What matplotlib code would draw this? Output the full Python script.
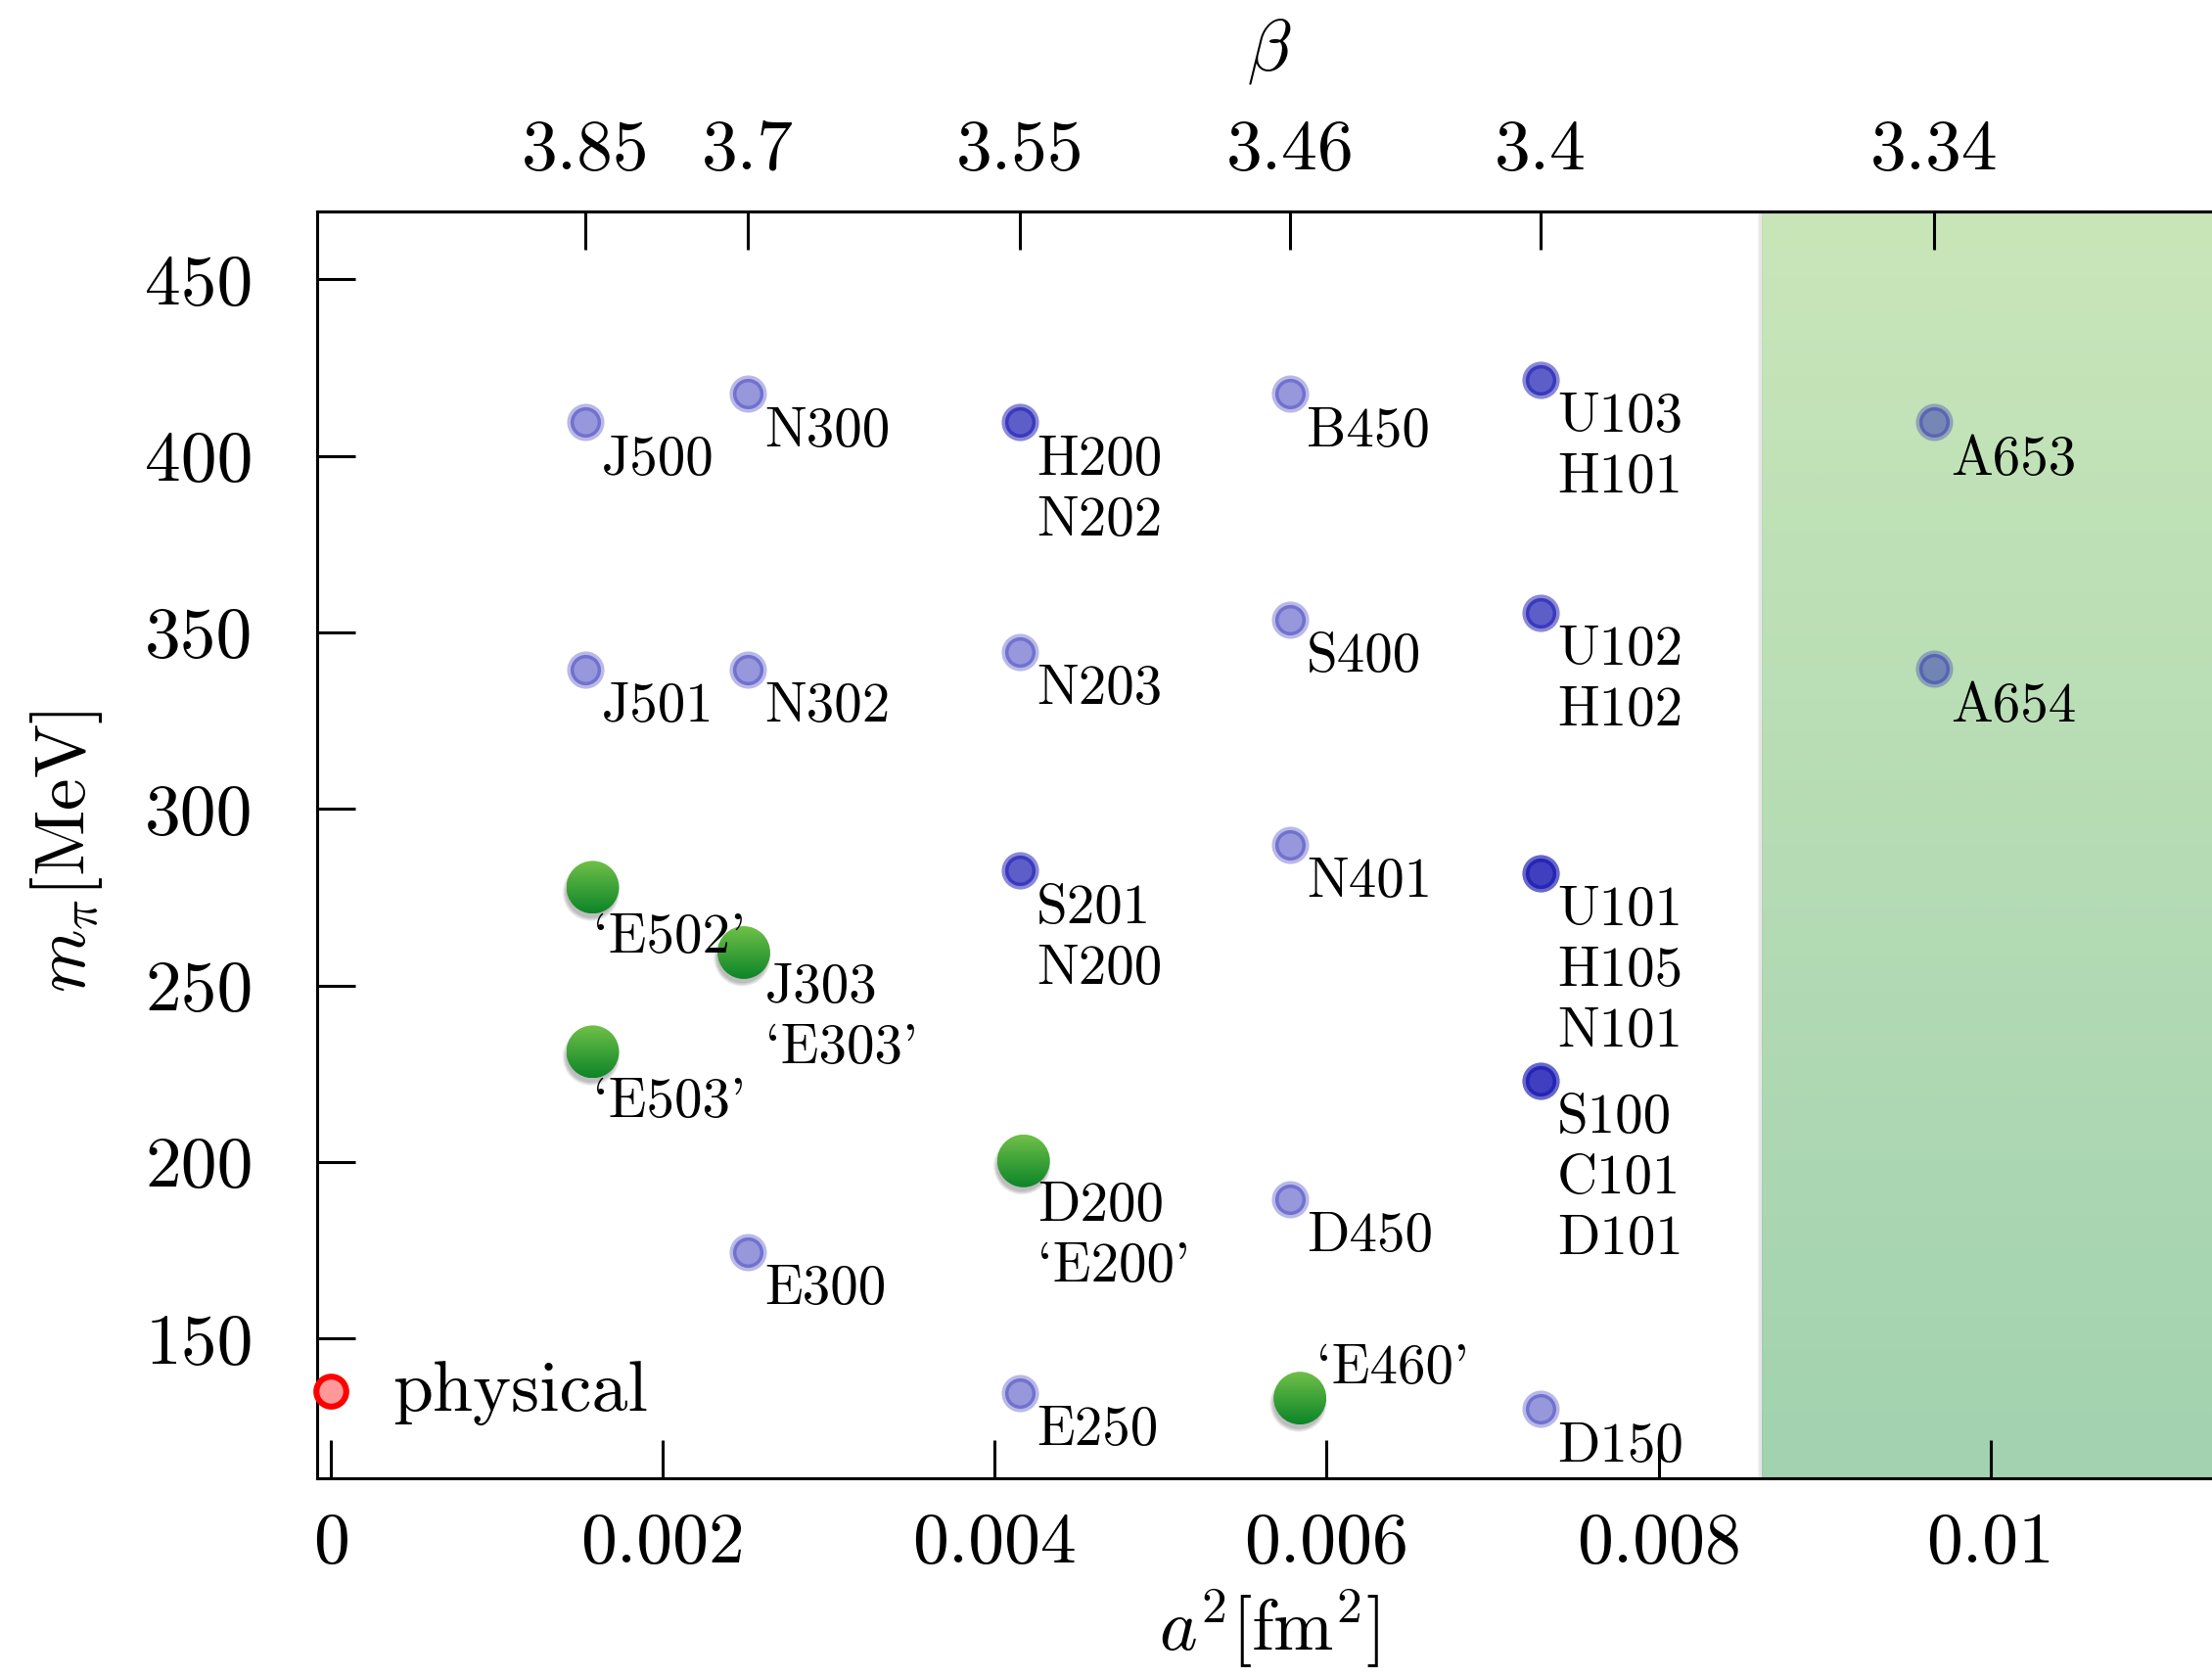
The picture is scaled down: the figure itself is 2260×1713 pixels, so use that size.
import numpy as np
import matplotlib
matplotlib.use('agg')
import matplotlib.pyplot as plt
from matplotlib.patches import Circle
from matplotlib.image import AxesImage
from matplotlib.transforms import Affine2D, ScaledTranslation, blended_transform_factory
from matplotlib.colors import to_rgba

plt.rcParams['font.family'] = 'serif'
plt.rcParams['font.serif'] = ['cmr10']
plt.rcParams['mathtext.fontset'] = 'cm'
plt.rcParams['axes.unicode_minus'] = False

# top axis: beta and the matching a^2 [fm^2]
beta_labels = ['3.85', '3.7', '3.55', '3.46', '3.4', '3.34']
beta_a2 = [0.00153, 0.00251, 0.00415, 0.00578, 0.00729, 0.00966]

# CLS ensembles (blue), ensembles on the same spot are stacked
ens_names = ['J500', 'J501', 'N300', 'N302', 'E300',
             'H200', 'N202', 'N203', 'S201', 'N200', 'E250',
             'B450', 'S400', 'N401', 'D450',
             'U103', 'H101', 'U102', 'H102', 'U101', 'H105', 'N101',
             'S100', 'C101', 'D101', 'D150',
             'A653', 'A654']
ens_a2 = [0.00153, 0.00153, 0.00251, 0.00251, 0.00251,
          0.00415, 0.00415, 0.00415, 0.00415, 0.00415, 0.00415,
          0.00578, 0.00578, 0.00578, 0.00578,
          0.00729, 0.00729, 0.00729, 0.00729, 0.00729, 0.00729, 0.00729,
          0.00729, 0.00729, 0.00729, 0.00729,
          0.00966, 0.00966]
ens_mpi = [409.5, 339.5, 417.5, 339.5, 174.5,
           409.5, 409.5, 344.5, 282.5, 282.5, 134.5,
           417.5, 353.7, 289.8, 189.5,
           421.5, 421.5, 355.5, 355.5, 281.8, 281.8, 281.8,
           223.0, 223.0, 223.0, 130.0,
           409.5, 339.6]

# new 'E' ensembles (green)
new_names = ["`E502'", "`E503'", "J303\n`E303'", "D200\n`E200'", "`E460'"]
new_a2 = [0.001576, 0.001576, 0.002487, 0.004173, 0.005839]
new_mpi = [277.8, 231.2, 259.3, 200.3, 133.1]

phys_mpi = 135.0
cut_a2 = 0.00862  # shaded region beyond this a^2

xtick_vals = [0, 0.002, 0.004, 0.006, 0.008, 0.01]
xtick_labels = ['0', '0.002', '0.004', '0.006', '0.008', '0.01']
ytick_vals = [150, 200, 250, 300, 350, 400, 450]

W, H = 2260, 1713
fig = plt.figure(figsize=(W / 200, H / 200), dpi=200)
ax = fig.add_axes([324 / W, 1 - 1510 / H, (2270 - 324) / W, (1510 - 216) / H])
xlim = (-0.000085, 0.011395)
ylim = (110.4, 469.2)

# shaded region with vertical gradient
grad = np.linspace(0, 1, 200)[:, None, None]
c_top = np.array(to_rgba('#c9e6b9'))
c_bot = np.array(to_rgba('#a2d2b0'))
region = c_top * (1 - grad) + c_bot * grad
region = np.repeat(region, 2, axis=1)
im = AxesImage(ax, origin='upper', interpolation='bilinear',
               extent=(cut_a2, 0.0125, 0, 1),
               transform=blended_transform_factory(ax.transData, ax.transAxes))
im.set_data(region)
im.set_zorder(0)
ax.add_image(im)
for k in range(4):
    ax.axvline(cut_a2 - (k + 1) * 0.000004, color='0.5', alpha=0.05, lw=1.2, zorder=0)

# blue ensembles
ax.plot(ens_a2, ens_mpi, ls='none', marker='o', ms=11.2, mew=2.5,
        mfc=(0.1, 0.1, 0.7, 0.45), mec=(0.1, 0.1, 0.7, 0.3), zorder=3)

labels = {}
for n, x, y in zip(ens_names, ens_a2, ens_mpi):
    labels.setdefault((x, y), []).append(n)
for (x, y), names in labels.items():
    ax.annotate('\n'.join(names), (x, y), xytext=(6.1, -4.7), textcoords='offset points',
                ha='left', va='top', fontsize=20.5, linespacing=1.27, zorder=5)


# green balls with gradient and soft shadow
def draw_ball(x, y, r_pt=9.7):
    base = Affine2D().scale(r_pt / 72.0) + fig.dpi_scale_trans + ScaledTranslation(x, y, ax.transData)
    for k in range(4):
        sh = Circle((-0.06, -0.2), 0.96 + 0.04 * k, transform=base,
                    facecolor='black', edgecolor='none', alpha=0.07, zorder=3.5)
        ax.add_patch(sh)
    g = np.linspace(0, 1, 100)[:, None, None]
    top = np.array(to_rgba('#70c048'))
    bot = np.array(to_rgba('#0c8528'))
    arr = np.repeat(top * (1 - g) + bot * g, 2, axis=1)
    ball = AxesImage(ax, origin='upper', interpolation='bilinear',
                     extent=(-1, 1, -1, 1), transform=base)
    ball.set_data(arr)
    ball.set_zorder(4)
    clip = Circle((0, 0), 1.0, transform=base)
    ball.set_clip_path(clip)
    ax.add_image(ball)


for x, y in zip(new_a2, new_mpi):
    draw_ball(x, y)

new_offsets = [(0, -9.7), (0, -9.7), (7.9, -4.0), (5.0, -7.5), (6.0, 5.4)]
for n, x, y, off in zip(new_names, new_a2, new_mpi, new_offsets):
    va = 'baseline' if off[1] > 0 else 'top'
    ax.annotate(n, (x, y), xytext=off, textcoords='offset points',
                ha='left', va=va, fontsize=20.5, linespacing=1.27, zorder=5)

# physical point
ax.plot([0], [phys_mpi], ls='none', marker='o', ms=11, mew=2.2,
        mfc=(1, 0, 0, 0.4), mec='red', clip_on=False, zorder=5)
ax.annotate('physical', (0, phys_mpi), xytext=(22.7, -7.2), textcoords='offset points',
            ha='left', va='baseline', fontsize=26.6)

ax.set_xlim(xlim)
ax.set_ylim(ylim)
ax.set_xticks(xtick_vals, xtick_labels)
ax.set_yticks(ytick_vals)
ax.tick_params(axis='x', direction='in', length=14, width=1.1, labelsize=26.5, pad=12.6)
ax.tick_params(axis='y', direction='in', length=14, width=1.1, labelsize=26.5, pad=23.5)
for s in ax.spines.values():
    s.set_linewidth(1.1)

sec = ax.secondary_xaxis('top')
sec.set_xticks(beta_a2, beta_labels)
sec.tick_params(direction='in', length=14, width=1.1, labelsize=26.5, pad=10.4)
sec.spines['top'].set_linewidth(1.1)

fig.text(1297 / W, 1 - 52 / H, r'$\beta$', fontsize=26.5, ha='center', va='center')
fig.text(1297 / W, 1 - 1664 / H, r'$a^2[\mathrm{fm}^2]$', fontsize=26.5, ha='center', va='center')
fig.text(68 / W, 1 - 870 / H, r'$m_\pi[\mathrm{MeV}]$', fontsize=26.5, ha='center', va='center', rotation=90)

fig.savefig('out.png', dpi=200)
